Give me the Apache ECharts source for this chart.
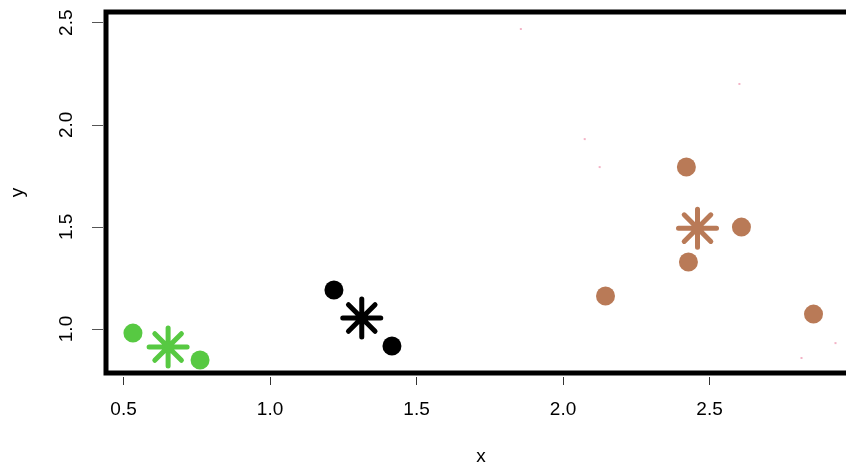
<!DOCTYPE html>
<html>
<head>
<meta charset="utf-8">
<script src="https://cdn.jsdelivr.net/npm/echarts@6/dist/echarts.min.js"></script>
<style>
  html, body { margin: 0; padding: 0; background: #fff; }
  #chart { width: 846px; height: 466px; }
</style>
</head>
<body>
<div id="chart"></div>
<script>
// cluster members and centres
const greenPoints = [[0.532, 0.980], [0.761, 0.848]]
const greenCentre = [[0.652, 0.912]]
const blackPoints = [[1.218, 1.191], [1.416, 0.917]]
const blackCentre = [[1.313, 1.054]]
const brownPoints = [[2.421, 1.793], [2.609, 1.499], [2.428, 1.328], [2.145, 1.162], [2.855, 1.073]]
const brownCentre = [[2.459, 1.494]]
// the faint specks scattered in the plot
const specks = [[1.856, 2.469], [2.602, 2.200], [2.074, 1.930], [2.125, 1.793], [2.814, 0.858], [2.930, 0.931]]

const xTicks = [0.5, 1.0, 1.5, 2.0, 2.5]
const yTicks = [1.0, 1.5, 2.0, 2.5]

const GREEN = '#57c942'
const BLACK = '#000000'
const BROWN = '#b97a57'
const STAR = 'path://M0,20L40,20M20,0L20,40M6,6L34,34M34,6L6,34'
const FONT = 'Liberation Sans'

function dots(data, color) {
  return {
    type: 'scatter',
    data,
    symbol: 'circle',
    symbolSize: 19,
    itemStyle: { color, opacity: 1 },
    silent: true,
  }
}

function star(data, color) {
  return {
    type: 'scatter',
    data,
    symbol: STAR,
    symbolSize: 38,
    symbolKeepAspect: true,
    itemStyle: {
      color: 'rgba(0,0,0,0)',
      borderColor: color,
      borderWidth: 5,
      borderCap: 'round',
      opacity: 1,
    },
    silent: true,
  }
}

const chart = echarts.init(document.getElementById('chart'), null, { renderer: 'canvas' })

chart.setOption({
  animation: false,
  backgroundColor: '#fff',
  grid: {
    left: 106,
    right: -10,
    top: 12,
    bottom: 93,
    outerBoundsMode: 'none',
    show: true,
    borderColor: '#000',
    borderWidth: 5,
    backgroundColor: 'rgba(0,0,0,0)',
  },
  xAxis: {
    type: 'value',
    min: 0.44,
    max: 3.0,
    offset: 4,
    name: 'x',
    nameLocation: 'middle',
    nameGap: 70,
    nameTextStyle: { fontFamily: FONT, fontSize: 19, color: '#000' },
    axisLine: { show: false },
    axisTick: {
      show: true,
      length: 8,
      customValues: xTicks,
      lineStyle: { color: '#333', width: 1 },
    },
    axisLabel: {
      customValues: xTicks,
      margin: 23,
      fontFamily: FONT,
      fontSize: 19,
      color: '#000',
      formatter: v => v.toFixed(1),
    },
    splitLine: { show: false },
  },
  yAxis: {
    type: 'value',
    min: 0.7846,
    max: 2.5524,
    offset: 3,
    name: 'y',
    nameLocation: 'middle',
    nameRotate: 90,
    nameGap: 76,
    nameTextStyle: { fontFamily: FONT, fontSize: 19, color: '#000' },
    axisLine: { show: false },
    axisTick: {
      show: true,
      length: 11,
      customValues: yTicks,
      lineStyle: { color: '#555', width: 1 },
    },
    axisLabel: {
      customValues: yTicks,
      rotate: 90,
      margin: 27,
      fontFamily: FONT,
      fontSize: 19,
      color: '#000',
      formatter: v => v.toFixed(1),
    },
    splitLine: { show: false },
  },
  series: [
    {
      type: 'scatter',
      data: specks,
      symbol: 'rect',
      symbolSize: 2,
      itemStyle: { color: '#f0a0b8' },
      silent: true,
    },
    dots(greenPoints, GREEN),
    star(greenCentre, GREEN),
    dots(blackPoints, BLACK),
    star(blackCentre, BLACK),
    dots(brownPoints, BROWN),
    star(brownCentre, BROWN),
  ],
})
</script>
</body>
</html>
